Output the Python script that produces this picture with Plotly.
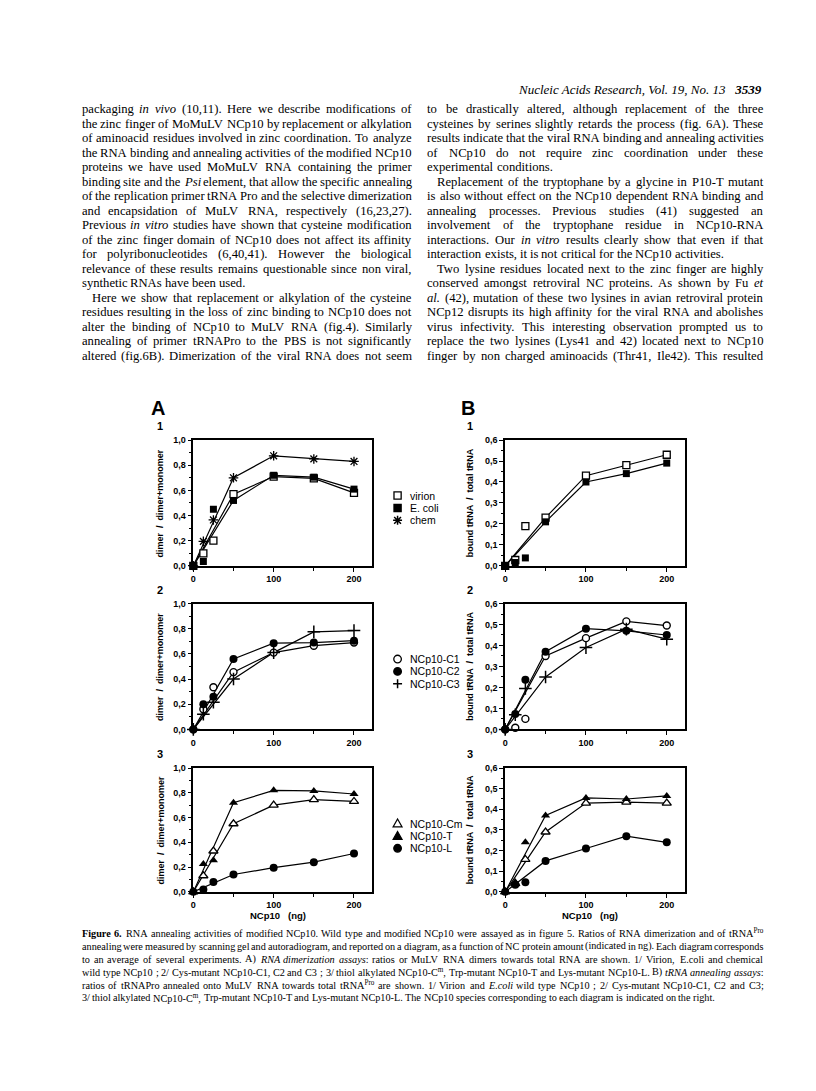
import re
import plotly.graph_objects as go

W, H = 816, 1091

# ---------------- data ----------------
doses = [0, 12.5, 25, 50, 100, 150, 200]      # NCp10 (ng)
line_doses = [0, 50, 100, 150, 200]           # doses joined by the drawn curves

# A) RNA dimerization: dimer / dimer+monomer
a1_virion = [0.0, 0.10, 0.20, 0.57, 0.71, 0.695, 0.58]
a1_ecoli = [0.0, 0.035, 0.45, 0.52, 0.72, 0.705, 0.61]
a1_chem = [0.0, 0.195, 0.365, 0.70, 0.875, 0.85, 0.83]
a2_c1 = [0.0, 0.16, 0.335, 0.455, 0.61, 0.665, 0.69]
a2_c2 = [0.0, 0.20, 0.26, 0.56, 0.685, 0.69, 0.705]
a2_c3 = [0.0, 0.12, 0.215, 0.40, 0.61, 0.775, 0.785]
a3_cm = [0.0, 0.13, 0.33, 0.55, 0.70, 0.745, 0.73]
a3_t = [0.0, 0.225, 0.255, 0.72, 0.82, 0.815, 0.79]
a3_l = [0.0, 0.02, 0.08, 0.14, 0.195, 0.24, 0.31]

# B) tRNA annealing: bound tRNA / total tRNA
b1_virion = [0.0, 0.028, 0.19, 0.23, 0.43, 0.48, 0.53]
b1_ecoli = [0.0, 0.016, 0.038, 0.21, 0.40, 0.44, 0.49]
b2_c1 = [0.0, 0.008, 0.05, 0.35, 0.435, 0.515, 0.495]
b2_c2 = [0.0, 0.073, 0.237, 0.37, 0.48, 0.47, 0.45]
b2_c3 = [0.0, 0.07, 0.195, 0.25, 0.39, 0.478, 0.43]
b3_cm = [0.0, 0.04, 0.157, 0.29, 0.43, 0.435, 0.43]
b3_t = [0.0, 0.047, 0.24, 0.37, 0.455, 0.45, 0.465]
b3_l = [0.0, 0.035, 0.047, 0.15, 0.21, 0.27, 0.24]

names_1 = ["virion", "E. coli", "chem"]
names_2 = ["NCp10-C1", "NCp10-C2", "NCp10-C3"]
names_3 = ["NCp10-Cm", "NCp10-T", "NCp10-L"]

x_tickvals = [0, 100, 200]
x_ticktext = ["0", "100", "200"]
a_tickvals = [0, 0.2, 0.4, 0.6, 0.8, 1.0]
a_ticktext = ["0,0", "0,2", "0,4", "0,6", "0,8", "1,0"]
b_tickvals = [0, 0.1, 0.2, 0.3, 0.4, 0.5, 0.6]
b_ticktext = ["0,0", "0,1", "0,2", "0,3", "0,4", "0,5", "0,6"]

a_ytitle = "dimer  /  dimer+monomer"
b_ytitle = "bound tRNA  /  total tRNA"
x_title = "NCp10   (ng)"

header = "<i>Nucleic Acids Research, Vol. 19, No. 13</i>   <b><i>3539</i></b>"

# ">" = indented first line, "|" = last line of a paragraph (not justified)
left_lines = [
    "packaging <i>in</i> <i>vivo</i> (10,11). Here we describe modifications of",
    "the zinc finger of MoMuLV NCp10 by replacement or alkylation",
    "of aminoacid residues involved in zinc coordination. To analyze",
    "the RNA binding and annealing activities of the modified NCp10",
    "proteins we have used MoMuLV RNA containing the primer",
    "binding site and the <i>Psi</i> element, that allow the specific annealing",
    "of the replication primer tRNA Pro and the selective dimerization",
    "and encapsidation of MuLV RNA, respectively (16,23,27).",
    "Previous <i>in</i> <i>vitro</i> studies have shown that cysteine modification",
    "of the zinc finger domain of NCp10 does not affect its affinity",
    "for polyribonucleotides (6,40,41). However the biological",
    "relevance of these results remains questionable since non viral,",
    "synthetic RNAs have been used.|",
    ">Here we show that replacement or alkylation of the cysteine",
    "residues resulting in the loss of zinc binding to NCp10 does not",
    "alter the binding of NCp10 to MuLV RNA (fig.4). Similarly",
    "annealing of primer tRNAPro to the PBS is not significantly",
    "altered (fig.6B). Dimerization of the viral RNA does not seem",
]
right_lines = [
    "to be drastically altered, although replacement of the three",
    "cysteines by serines slightly retards the process (fig. 6A). These",
    "results indicate that the viral RNA binding and annealing activities",
    "of NCp10 do not require zinc coordination under these",
    "experimental conditions.|",
    ">Replacement of the tryptophane by a glycine in P10-T mutant",
    "is also without effect on the NCp10 dependent RNA binding and",
    "annealing processes. Previous studies (41) suggested an",
    "involvement of the tryptophane residue in NCp10-RNA",
    "interactions. Our <i>in</i> <i>vitro</i> results clearly show that even if that",
    "interaction exists, it is not critical for the NCp10 activities.|",
    ">Two lysine residues located next to the zinc finger are highly",
    "conserved amongst retroviral NC proteins. As shown by Fu <i>et</i>",
    "<i>al.</i> (42), mutation of these two lysines in avian retroviral protein",
    "NCp12 disrupts its high affinity for the viral RNA and abolishes",
    "virus infectivity. This interesting observation prompted us to",
    "replace the two lysines (Lys41 and 42) located next to NCp10",
    "finger by non charged aminoacids (Thr41, Ile42). This resulted",
]
caption_lines = [
    "<b>Figure</b> <b>6.</b> RNA annealing activities of modified NCp10. Wild type and modified NCp10 were assayed as in figure 5. Ratios of RNA dimerization and of tRNA<sup>Pro</sup>",
    "annealing were measured by scanning gel and autoradiogram, and reported on a diagram, as a function of NC protein amount (indicated in ng). Each diagram corresponds",
    "to an average of several experiments. A) <i>RNA</i> <i>dimerization</i> <i>assays</i>: ratios or MuLV RNA dimers towards total RNA are shown. 1/ Virion, E.coli and chemical",
    "wild type NCp10 ; 2/ Cys-mutant NCp10-C1, C2 and C3 ; 3/ thiol alkylated NCp10-C<sup>m</sup>, Trp-mutant NCp10-T and Lys-mutant NCp10-L. B) <i>tRNA</i> <i>annealing</i> <i>assays</i>:",
    "ratios of tRNAPro annealed onto MuLV RNA towards total tRNA<sup>Pro</sup> are shown. 1/ Virion and <i>E.coli</i> wild type NCp10 ; 2/ Cys-mutant NCp10-C1, C2 and C3;",
    "3/ thiol alkylated NCp10-C<sup>m</sup>, Trp-mutant NCp10-T and Lys-mutant NCp10-L. The NCp10 species corresponding to each diagram is indicated on the right.|",
]

# ---------------- marker styles ----------------
STYLE = {
    "square-open": dict(symbol="square", size=7, color="white", line=dict(color="black", width=1.3)),
    "square": dict(symbol="square", size=7, color="black", line=dict(width=0)),
    "asterisk": dict(symbol="asterisk-open", size=8, color="black", line=dict(color="black", width=1.3)),
    "circle-open": dict(symbol="circle", size=7, color="white", line=dict(color="black", width=1.4)),
    "circle": dict(symbol="circle", size=8, color="black", line=dict(width=0)),
    "cross": dict(symbol="cross-thin-open", size=9, color="black", line=dict(color="black", width=1.5)),
    "triangle-open": dict(symbol="triangle-up", size=8, color="white", line=dict(color="black", width=1.3)),
    "triangle": dict(symbol="triangle-up", size=8, color="black", line=dict(width=0)),
}

col_px = {"A": (183, 362), "B": (496, 676)}
row_px = [(431, 558), (596, 723), (762, 887)]

panels = [
    (1, "A", 0, 1.0, [(names_1[0], a1_virion, "square-open"), (names_1[1], a1_ecoli, "square"), (names_1[2], a1_chem, "asterisk")]),
    (2, "B", 0, 0.6, [(names_1[0], b1_virion, "square-open"), (names_1[1], b1_ecoli, "square")]),
    (3, "A", 1, 1.0, [(names_2[0], a2_c1, "circle-open"), (names_2[1], a2_c2, "circle"), (names_2[2], a2_c3, "cross")]),
    (4, "B", 1, 0.6, [(names_2[0], b2_c1, "circle-open"), (names_2[1], b2_c2, "circle"), (names_2[2], b2_c3, "cross")]),
    (5, "A", 2, 1.0, [(names_3[0], a3_cm, "triangle-open"), (names_3[1], a3_t, "triangle"), (names_3[2], a3_l, "circle")]),
    (6, "B", 2, 0.6, [(names_3[0], b3_cm, "triangle-open"), (names_3[1], b3_t, "triangle"), (names_3[2], b3_l, "circle")]),
]

SANS = "Liberation Sans"
SERIF = "Liberation Serif"


def px(x, y):
    return x / W, 1 - y / H


def key_shapes(cx, cy, sty):
    """Legend key drawn as layout shapes (paper coords) around pixel centre cx, cy."""
    X = lambda v: v / W
    Y = lambda v: 1 - v / H
    base = dict(xref="paper", yref="paper", layer="above")
    filled = sty in ("square", "circle", "triangle")
    fill = "black" if filled else "white"
    r = 3.6
    if sty.startswith("square"):
        return [dict(base, type="rect", x0=X(cx - r), x1=X(cx + r), y0=Y(cy + r), y1=Y(cy - r),
                     fillcolor=fill, line=dict(color="black", width=1.3))]
    if sty.startswith("circle"):
        r = 3.8
        return [dict(base, type="circle", x0=X(cx - r), x1=X(cx + r), y0=Y(cy + r), y1=Y(cy - r),
                     fillcolor=fill, line=dict(color="black", width=1.3))]
    if sty.startswith("triangle"):
        p = (f"M{X(cx)},{Y(cy - 4.5)} L{X(cx + 4.5)},{Y(cy + 3.5)} "
             f"L{X(cx - 4.5)},{Y(cy + 3.5)} Z")
        return [dict(base, type="path", path=p, fillcolor=fill, line=dict(color="black", width=1.2))]
    r = 4.5
    p = f"M{X(cx - r)},{Y(cy)} L{X(cx + r)},{Y(cy)} M{X(cx)},{Y(cy - r)} L{X(cx)},{Y(cy + r)}"
    if sty == "asterisk":
        d = 3.4
        p += (f" M{X(cx - d)},{Y(cy - d)} L{X(cx + d)},{Y(cy + d)}"
              f" M{X(cx - d)},{Y(cy + d)} L{X(cx + d)},{Y(cy - d)}")
    return [dict(base, type="path", path=p, line=dict(color="black", width=1.5))]


fig = go.Figure()
annotations = []
shapes = []
layout = {}

for k, col, row, ymax, series in panels:
    sfx = "" if k == 1 else str(k)
    x0, x1 = col_px[col]
    y0, y1 = row_px[row]
    tickvals, ticktext = (a_tickvals, a_ticktext) if col == "A" else (b_tickvals, b_ticktext)
    common = dict(showline=True, mirror=True, linecolor="black", linewidth=1.6,
                  ticks="outside", ticklen=4, tickwidth=1.2, tickcolor="black",
                  showgrid=False, zeroline=False,
                  tickfont=dict(family=SANS, size=9, color="black", weight="bold"))
    layout["xaxis" + sfx] = dict(common, domain=[x0 / W, x1 / W], anchor="y" + sfx, range=[0, 222],
                                 tickvals=x_tickvals, ticktext=x_ticktext,
                                 minor=dict(ticks="outside", dtick=50, ticklen=3, tickcolor="black"))
    layout["yaxis" + sfx] = dict(common, domain=[1 - y1 / H, 1 - y0 / H], anchor="x" + sfx, range=[0, ymax],
                                 tickvals=tickvals, ticktext=ticktext,
                                 minor=dict(ticks="outside", dtick=0.1 if col == "A" else 0.05,
                                            ticklen=2.5, tickcolor="black"))
    for name, vals, sty in series:
        lx = [d for d in doses if d in line_doses]
        ly = [v for d, v in zip(doses, vals) if d in line_doses]
        fig.add_trace(go.Scatter(x=lx, y=ly, mode="lines", line=dict(color="black", width=1.2),
                                 xaxis="x" + sfx, yaxis="y" + sfx, showlegend=False, cliponaxis=False))
    for name, vals, sty in series:
        fig.add_trace(go.Scatter(x=doses, y=vals, mode="markers", name=name, marker=STYLE[sty],
                                 xaxis="x" + sfx, yaxis="y" + sfx, showlegend=False, cliponaxis=False))

    # y title, panel number
    tx = 150 if col == "A" else 461
    ax, ay = px(tx, (y0 + y1) / 2)
    annotations.append(dict(x=ax, y=ay, text=a_ytitle if col == "A" else b_ytitle, textangle=-90,
                            font=dict(family=SANS, size=9, color="black", weight="bold")))
    nx, ny = px(tx, y0 - 14)
    annotations.append(dict(x=nx, y=ny, text=str(row + 1),
                            font=dict(family=SANS, size=11, color="black", weight="bold")))
    if row == 2:
        cx, cy = px((x0 + x1) / 2 - 5, 911)
        annotations.append(dict(x=cx, y=cy, text=x_title,
                                font=dict(family=SANS, size=9.5, color="black", weight="bold")))
    # legend on the right of the A panels
    if col == "A":
        for i, (name, vals, sty) in enumerate(series):
            ly_px = y0 + 56 + i * 12.5
            shapes.extend(key_shapes(388, ly_px, sty))
            tx2, ty2 = px(398, ly_px)
            annotations.append(dict(x=tx2, y=ty2, text=name, xanchor="left",
                                    font=dict(family=SANS, size=10.5, color="black")))

for lab, lx in (("A", 148), ("B", 459)):
    ax, ay = px(lx, 399)
    annotations.append(dict(x=ax, y=ay, text=lab, font=dict(family=SANS, size=20, color="black", weight="bold")))

# ---------------- running text (justified with Times metrics) ----------------
ROMAN = {" ": 250, "!": 333, '"': 408, "#": 500, "$": 500, "%": 833, "&": 778, "'": 333,
         "(": 333, ")": 333, "*": 500, "+": 564, ",": 250, "-": 333, ".": 250, "/": 278,
         ":": 278, ";": 278, "=": 564, "?": 444, "[": 333, "]": 333}
ROMAN.update({d: 500 for d in "0123456789"})
ROMAN.update(dict(A=722, B=667, C=667, D=722, E=611, F=556, G=722, H=722, I=333, J=389, K=722,
                  L=611, M=889, N=722, O=722, P=556, Q=722, R=667, S=556, T=611, U=722, V=722,
                  W=944, X=722, Y=722, Z=611))
ROMAN.update(dict(a=444, b=500, c=444, d=500, e=444, f=333, g=500, h=500, i=278, j=278, k=500,
                  l=278, m=778, n=500, o=500, p=500, q=500, r=333, s=389, t=278, u=500, v=500,
                  w=722, x=500, y=500, z=444))
ITALIC = dict(ROMAN)
ITALIC.update(dict(A=611, B=611, C=667, D=722, E=611, F=611, G=722, H=722, I=333, J=444, K=667,
                   L=556, M=833, N=667, O=722, P=611, Q=722, R=611, S=500, T=556, U=722, V=611,
                   W=833, X=611, Y=556, Z=556))
ITALIC.update(dict(a=500, b=500, c=444, d=500, e=444, f=278, g=500, h=500, i=278, j=278, k=444,
                   l=278, m=722, n=500, o=500, p=500, q=500, r=389, s=389, t=278, u=500, v=444,
                   w=667, x=444, y=444, z=389))


def word_em(word):
    em, scale, table, bold = 0.0, 1.0, ROMAN, 1.0
    for tok in re.findall(r"</?\w+>|.", word):
        if tok == "<sup>":
            scale = 0.7
        elif tok == "</sup>":
            scale = 1.0
        elif tok == "<i>":
            table = ITALIC
        elif tok == "</i>":
            table = ROMAN
        elif tok == "<b>":
            bold = 1.08
        elif tok == "</b>":
            bold = 1.0
        else:
            em += table.get(tok, 500) / 1000 * scale * bold
    return em


def parse(raw):
    indent = raw.startswith(">")
    text = raw[1:] if indent else raw
    natural = text.endswith("|")
    if natural:
        text = text[:-1]
    return indent, natural, text.split()


def set_block(lines, left, right, top, step, cap, indent_px=10, min_gap=0.24):
    size = cap
    for raw in lines:
        indent, natural, words = parse(raw)
        if natural:
            continue
        avail = right - left - (indent_px if indent else 0)
        em = sum(word_em(w) for w in words) + min_gap * (len(words) - 1)
        size = min(size, avail / em)
    for i, raw in enumerate(lines):
        indent, natural, words = parse(raw)
        x = left + (indent_px if indent else 0)
        widths = [word_em(w) * size for w in words]
        if natural or len(words) < 2:
            gap = 0.25 * size
        else:
            gap = (right - x - sum(widths)) / (len(words) - 1)
        y = top + i * step
        for w, wd in zip(words, widths):
            ax, ay = px(x - 2, y)
            annotations.append(dict(x=ax, y=ay, text=w, xanchor="left",
                                    font=dict(family=SERIF, size=size, color="black")))
            x += wd + gap


set_block(left_lines, 71, 402, 97, 14.65, 13)
set_block(right_lines, 418, 755, 97, 14.65, 13)
set_block(caption_lines, 71, 755, 929, 13, 11, min_gap=0.2)

hx, hy = px(756, 77)
annotations.append(dict(x=hx, y=hy, text=header, xanchor="right",
                        font=dict(family=SERIF, size=13, color="black")))

for a in annotations:
    a.update(xref="paper", yref="paper", showarrow=False)
    a.setdefault("yanchor", "middle")
    a.setdefault("xanchor", "center")

fig.update_layout(width=W, height=H, margin=dict(l=0, r=0, t=0, b=0),
                  paper_bgcolor="white", plot_bgcolor="white",
                  showlegend=False, annotations=annotations, shapes=shapes, **layout)

fig.write_html("out.html")
